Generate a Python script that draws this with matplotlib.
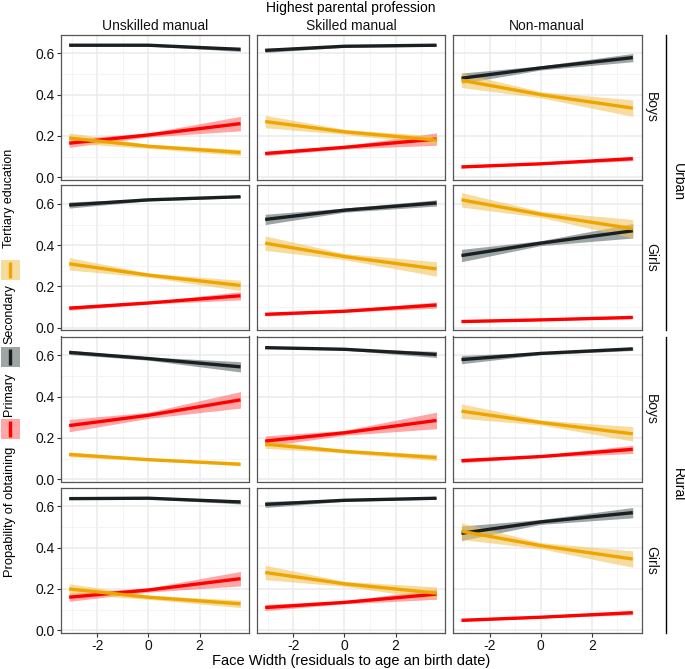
import numpy as np
import matplotlib
matplotlib.use("Agg")
import matplotlib.pyplot as plt
from matplotlib.patches import Rectangle
from matplotlib.lines import Line2D

plt.rcParams['font.family'] = ['Liberation Sans', 'DejaVu Sans']

xs = [-3.1, 0.0, 3.6]

professions = ["Unskilled manual", "Skilled manual", "Non-manual"]
sexes = ["Boys", "Girls", "Boys", "Girls"]
areas = ["Urban", "Rural"]
levels = ["Primary", "Secondary", "Tertiary education"]

# [row][col] -> fitted probability at xs
primary = [
    [[0.165, 0.205, 0.26], [0.115, 0.145, 0.185], [0.05, 0.065, 0.09]],
    [[0.095, 0.12, 0.155], [0.065, 0.08, 0.11], [0.03, 0.038, 0.05]],
    [[0.26, 0.31, 0.385], [0.185, 0.225, 0.285], [0.09, 0.11, 0.145]],
    [[0.16, 0.195, 0.25], [0.11, 0.135, 0.175], [0.048, 0.063, 0.085]],
]
primary_se = [
    [[0.02, 0.01, 0.035], [0.01, 0.008, 0.03], [0.005, 0.004, 0.01]],
    [[0.01, 0.005, 0.02], [0.008, 0.005, 0.015], [0.004, 0.003, 0.006]],
    [[0.03, 0.015, 0.04], [0.025, 0.012, 0.04], [0.01, 0.005, 0.02]],
    [[0.02, 0.01, 0.035], [0.015, 0.007, 0.025], [0.005, 0.003, 0.01]],
]
secondary = [
    [[0.64, 0.64, 0.62], [0.615, 0.635, 0.64], [0.48, 0.53, 0.58]],
    [[0.595, 0.62, 0.635], [0.525, 0.57, 0.605], [0.35, 0.41, 0.47]],
    [[0.615, 0.585, 0.545], [0.638, 0.63, 0.605], [0.58, 0.61, 0.632]],
    [[0.638, 0.64, 0.622], [0.61, 0.63, 0.64], [0.47, 0.525, 0.57]],
]
secondary_se = [
    [[0.005, 0.004, 0.01], [0.01, 0.005, 0.005], [0.025, 0.01, 0.02]],
    [[0.015, 0.005, 0.005], [0.025, 0.01, 0.015], [0.03, 0.012, 0.035]],
    [[0.01, 0.008, 0.025], [0.005, 0.004, 0.015], [0.02, 0.006, 0.008]],
    [[0.004, 0.003, 0.01], [0.015, 0.005, 0.005], [0.035, 0.012, 0.025]],
]
tertiary = [
    [[0.19, 0.15, 0.12], [0.27, 0.22, 0.18], [0.47, 0.40, 0.335]],
    [[0.31, 0.255, 0.205], [0.41, 0.345, 0.285], [0.62, 0.55, 0.48]],
    [[0.12, 0.095, 0.073], [0.17, 0.135, 0.105], [0.33, 0.275, 0.22]],
    [[0.20, 0.16, 0.128], [0.28, 0.225, 0.18], [0.48, 0.41, 0.345]],
]
tertiary_se = [
    [[0.025, 0.01, 0.015], [0.03, 0.012, 0.02], [0.035, 0.015, 0.04]],
    [[0.03, 0.01, 0.025], [0.035, 0.015, 0.035], [0.035, 0.015, 0.045]],
    [[0.012, 0.005, 0.008], [0.02, 0.008, 0.015], [0.035, 0.012, 0.035]],
    [[0.025, 0.01, 0.018], [0.035, 0.012, 0.03], [0.04, 0.015, 0.04]],
]

line_cols = ["#FF0000", "#1A1F22", "#EFA500"]
band_cols = ["#FF6B6B", "#5E6A6A", "#F2C560"]
band_alpha = [0.6, 0.6, 0.6]

W, H = 685, 669
fig = plt.figure(figsize=(W / 100, H / 100), dpi=100)

def fx(px):
    return px / W

def fy(py):
    return 1 - py / H

col_left = [60.7, 256.7, 453.0]
pw = 188.5
row_top = [34.5, 185.0, 336.5, 487.5]
ph = 145.0

for r in range(4):
    for c in range(3):
        ax = fig.add_axes([fx(col_left[c]), fy(row_top[r] + ph), pw / W, ph / H])
        for k, (vals, ses) in enumerate([(primary, primary_se), (secondary, secondary_se), (tertiary, tertiary_se)]):
            v = np.array(vals[r][c])
            s = np.array(ses[r][c])
            ax.fill_between(xs, v - s, v + s, color=band_cols[k], alpha=band_alpha[k], lw=0, zorder=2)
            ax.plot(xs, v, color=line_cols[k], lw=2.4, solid_capstyle='butt', zorder=3)
        ax.set_xlim(-3.43, 3.94)
        ax.set_ylim(-0.011, 0.692)
        ax.set_xticks([-2, 0, 2])
        ax.set_xticks([-3, -1, 1, 3], minor=True)
        ax.set_yticks([0.0, 0.2, 0.4, 0.6])
        ax.set_yticks([0.1, 0.3, 0.5], minor=True)
        ax.grid(True, which='major', color='#EBEBEB', lw=1.1, zorder=0)
        ax.grid(True, which='minor', color='#F2F2F2', lw=0.6, zorder=0)
        ax.set_axisbelow(True)
        for sp in ax.spines.values():
            sp.set_color('#555555')
            sp.set_linewidth(0.9)
        ax.tick_params(which='minor', length=0)
        ax.tick_params(which='major', length=3, color='#333333', width=0.8,
                       labelsize=10, labelcolor='#111111', pad=1.5)
        if c == 0:
            ax.set_yticklabels(["0.0", "0.2", "0.4", "0.6"])
        else:
            ax.tick_params(axis='y', which='major', length=0, labelleft=False)
        if r == 3:
            ax.set_xticklabels(["-2", "0", "2"])
        else:
            ax.tick_params(axis='x', which='major', length=0, labelbottom=False)
        if r == 0:
            ax.set_title(professions[c], fontsize=10, pad=3.5, color='#111111')
        if c == 2:
            ax.text(1.015, 0.5, sexes[r], transform=ax.transAxes, rotation=-90,
                    ha='left', va='center', fontsize=10, color='#111111')

# outer strips
for i, area in enumerate(areas):
    top = row_top[2 * i]
    bot = row_top[2 * i + 1] + ph
    fig.add_artist(Line2D([fx(666), fx(666)], [fy(top), fy(bot)], color='black', lw=1.0))
    fig.text(fx(678), fy((top + bot) / 2), area, rotation=-90, ha='center', va='center', fontsize=10)

fig.text(fx(351), fy(8), "Highest parental profession", ha='center', va='center', fontsize=10)
fig.text(fx(351), fy(661), "Face Width (residuals to age an birth date)", ha='center', va='center', fontsize=10.5)

# legend drawn vertically on the left
fig.text(fx(10), fy(512), "Propability of obtaining", rotation=90, ha='center', va='center', fontsize=9.3)
key_tops = [419, 347, 260]
text_mid = [394, 314, 198]
for k in range(3):
    fig.add_artist(Rectangle((fx(0.5), fy(key_tops[k] + 20)), 19.5 / W, 20 / H,
                             facecolor=band_cols[k], alpha=band_alpha[k], edgecolor='none'))
    fig.add_artist(Line2D([fx(10), fx(10)], [fy(key_tops[k] + 2), fy(key_tops[k] + 18)],
                          color=line_cols[k], lw=2.4, solid_capstyle='butt'))
    fig.text(fx(9.5), fy(text_mid[k]), levels[k], rotation=90, ha='center', va='center', fontsize=9)

fig.savefig("out.png", dpi=100)
